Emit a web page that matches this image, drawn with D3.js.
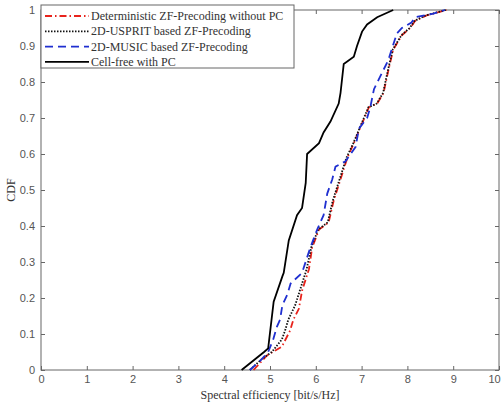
<!DOCTYPE html>
<html>
<head>
  <meta charset="utf-8">
  <script src="https://d3js.org/d3.v7.min.js"></script>
  <style>
    body { margin: 0; background: #fff; }
    .tick text { font-family: "Liberation Sans", sans-serif; font-size: 11px; fill: #555; }
    .lab { font-family: "Liberation Serif", serif; font-size: 12px; fill: #333; }
  </style>
</head>
<body>
<svg id="chart" width="504" height="403"></svg>
<script>
  // values
  var xTicks = [0, 1, 2, 3, 4, 5, 6, 7, 8, 9, 10];
  var yTicks = [0, 0.1, 0.2, 0.3, 0.4, 0.5, 0.6, 0.7, 0.8, 0.9, 1];

  var detSE  = [4.64, 4.93, 5.26, 5.44, 5.51, 5.63, 5.70, 5.85, 5.92, 6.07, 6.28, 6.39, 6.54, 6.69, 6.83, 7.01, 7.16, 7.34, 7.48, 7.58, 7.69, 7.88, 8.06, 8.17, 8.42, 8.86];
  var detCDF = [0, 0.04, 0.065, 0.11, 0.14, 0.17, 0.22, 0.28, 0.34, 0.39, 0.41, 0.47, 0.53, 0.59, 0.63, 0.685, 0.73, 0.74, 0.77, 0.83, 0.89, 0.93, 0.95, 0.97, 0.985, 1.0];

  var espritSE  = [4.56, 4.82, 5.04, 5.26, 5.33, 5.40, 5.55, 5.65, 5.80, 5.90, 6.05, 6.26, 6.37, 6.52, 6.67, 6.82, 7.00, 7.15, 7.33, 7.47, 7.57, 7.68, 7.87, 8.05, 8.16, 8.40, 8.84];
  var espritCDF = [0, 0.03, 0.05, 0.085, 0.11, 0.14, 0.18, 0.22, 0.28, 0.34, 0.39, 0.41, 0.47, 0.53, 0.59, 0.63, 0.685, 0.73, 0.74, 0.77, 0.83, 0.89, 0.93, 0.95, 0.97, 0.985, 1.0];

  var musicSE  = [4.56, 4.82, 4.96, 5.07, 5.15, 5.22, 5.27, 5.38, 5.45, 5.70, 5.88, 6.03, 6.17, 6.25, 6.36, 6.43, 6.65, 6.87, 6.94, 7.12, 7.19, 7.27, 7.58, 7.77, 7.88, 8.09, 8.17, 8.57, 8.82];
  var musicCDF = [0, 0.03, 0.05, 0.085, 0.12, 0.14, 0.18, 0.21, 0.24, 0.27, 0.34, 0.39, 0.43, 0.49, 0.53, 0.565, 0.58, 0.62, 0.67, 0.70, 0.73, 0.78, 0.86, 0.935, 0.95, 0.965, 0.98, 0.99, 1.0];

  var cfSE  = [4.38, 4.87, 4.96, 5.08, 5.27, 5.30, 5.41, 5.59, 5.70, 5.78, 5.81, 6.07, 6.17, 6.32, 6.50, 6.54, 6.61, 6.83, 6.90, 7.01, 7.12, 7.34, 7.69];
  var cfCDF = [0, 0.05, 0.06, 0.19, 0.26, 0.27, 0.36, 0.43, 0.45, 0.52, 0.60, 0.63, 0.66, 0.69, 0.74, 0.77, 0.85, 0.87, 0.90, 0.94, 0.96, 0.98, 1.0];

  var names = ["Deterministic ZF-Precoding without PC", "2D-USPRIT based ZF-Precoding", "2D-MUSIC based ZF-Precoding", "Cell-free with PC"];

  var series = [
    { name: names[0], x: detSE, y: detCDF, color: "#e8231c", width: 1.8, dash: "7,3,1.5,3" },
    { name: names[1], x: espritSE, y: espritCDF, color: "#111", width: 1.8, dash: "1.5,1.5" },
    { name: names[2], x: musicSE, y: musicCDF, color: "#1f2fd0", width: 1.8, dash: "8,5" },
    { name: names[3], x: cfSE, y: cfCDF, color: "#000", width: 1.8, dash: null }
  ];

  var svg = d3.select("#chart");
  var mLeft = 41, mRight = 499, mTop = 10, mBottom = 370;

  var x = d3.scaleLinear().domain([0, 10]).range([mLeft, mRight]);
  var y = d3.scaleLinear().domain([0, 1]).range([mBottom, mTop]);

  function styleAxis(g) {
    g.select(".domain").remove();
    g.selectAll(".tick line").attr("stroke", "#666");
  }

  svg.append("g").attr("transform", "translate(0," + mBottom + ")")
    .call(d3.axisBottom(x).tickValues(xTicks).tickSize(-4).tickPadding(5).tickFormat(d3.format("d")))
    .call(styleAxis)
    .call(function (g) {
      // keep the last label inside the window
      g.selectAll(".tick text").filter(function (d) { return d === 10; }).attr("dx", -5);
    });
  svg.append("g").attr("transform", "translate(0," + mTop + ")")
    .call(d3.axisTop(x).tickValues(xTicks).tickSize(-4).tickFormat(""))
    .call(styleAxis);
  svg.append("g").attr("transform", "translate(" + mLeft + ",0)")
    .call(d3.axisLeft(y).tickValues(yTicks).tickSize(-4).tickPadding(6).tickFormat(function (d) { return d === 0 || d === 1 ? d : d3.format(".1f")(d); }))
    .call(styleAxis);
  svg.append("g").attr("transform", "translate(" + mRight + ",0)")
    .call(d3.axisRight(y).tickValues(yTicks).tickSize(-4).tickFormat(""))
    .call(styleAxis);

  svg.append("rect")
    .attr("x", mLeft).attr("y", mTop)
    .attr("width", mRight - mLeft).attr("height", mBottom - mTop)
    .attr("fill", "none").attr("stroke", "#666").attr("stroke-width", 1);

  var line = d3.line()
    .x(function (d) { return x(d[0]); })
    .y(function (d) { return y(d[1]); });

  series.forEach(function (s) {
    svg.append("path")
      .datum(d3.zip(s.x, s.y))
      .attr("d", line)
      .attr("fill", "none")
      .attr("stroke", s.color)
      .attr("stroke-width", s.width)
      .attr("stroke-dasharray", s.dash);
  });

  // legend
  var lg = svg.append("g");
  lg.append("rect")
    .attr("x", 41).attr("y", 5).attr("width", 253).attr("height", 63)
    .attr("fill", "#fff").attr("stroke", "#666").attr("stroke-width", 1);
  series.forEach(function (s, i) {
    var yy = 16 + i * 15.3;
    lg.append("line")
      .attr("x1", 45).attr("x2", 89).attr("y1", yy).attr("y2", yy)
      .attr("stroke", s.color).attr("stroke-width", s.width)
      .attr("stroke-dasharray", s.dash);
    lg.append("text").attr("class", "lab")
      .attr("x", 91).attr("y", yy + 4)
      .text(s.name);
  });

  svg.append("text").attr("class", "lab")
    .attr("x", (mLeft + mRight) / 2).attr("y", 399)
    .attr("text-anchor", "middle")
    .text("Spectral efficiency [bit/s/Hz]");

  svg.append("text").attr("class", "lab")
    .attr("transform", "translate(15," + (mTop + mBottom) / 2 + ") rotate(-90)")
    .attr("text-anchor", "middle")
    .text("CDF");
</script>
</body>
</html>
